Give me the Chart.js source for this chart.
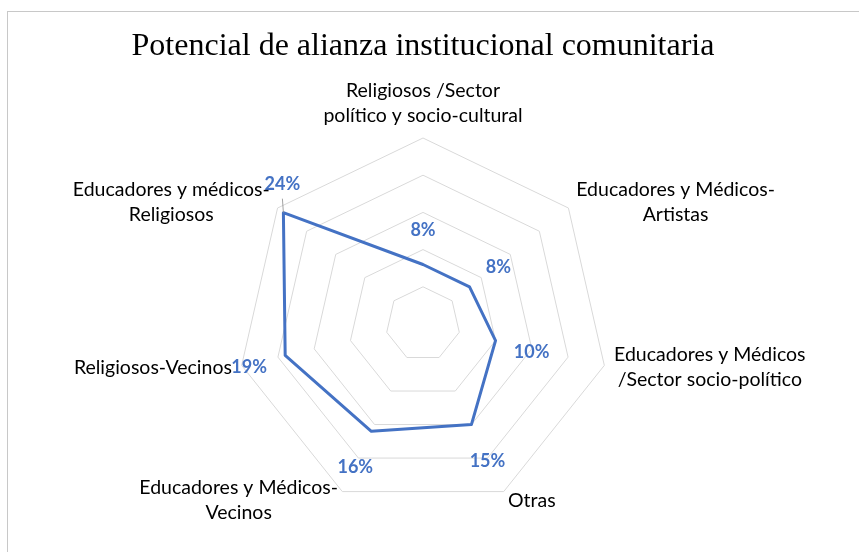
<!DOCTYPE html>
<html>
<head>
<meta charset="utf-8">
<script src="https://cdn.jsdelivr.net/npm/chart.js@4.4.1/dist/chart.umd.min.js"></script>
<style>
  html, body { margin: 0; padding: 0; background: #fff; overflow: hidden; }
  #wrap { position: relative; width: 859px; height: 552px; }
  #frame { position: absolute; left: 7px; top: 11px; width: 900px; height: 600px; border: 1px solid #c8c8c8; box-sizing: border-box; pointer-events: none; }
</style>
</head>
<body>
<div id="wrap">
  <canvas id="myChart" width="859" height="552"></canvas>
  <div id="frame"></div>
</div>
<script>
const categorias = [
    ['Religiosos /Sector', 'político y socio-cultural'],
    ['Educadores y Médicos-', 'Artistas'],
    ['Educadores y Médicos', '/Sector socio-político'],
    ['Otras'],
    ['Educadores y Médicos-', 'Vecinos'],
    ['Religiosos-Vecinos'],
    ['Educadores y médicos-', 'Religiosos']
];
const valores = [8, 8, 10, 15, 16, 19, 24];
const escalaTicks = [0, 5, 10, 15, 20, 25];

const azul = '#4472C4';

// nombres de categoria centrados linea a linea, como en Excel
const nombresCategorias = {
    id: 'nombresCategorias',
    afterDraw(chart) {
        const r = chart.scales.r;
        const ctx = chart.ctx;
        const alto = 25;
        ctx.save();
        ctx.font = '19.5px Lato';
        ctx.fillStyle = '#000';
        ctx.textBaseline = 'middle';
        ctx.textAlign = 'center';
        categorias.forEach((lineas, i) => {
            const p = r.getPointPosition(i, r.drawingArea + 10);
            const ang = r.getIndexAngle(i);
            const s = Math.sin(ang), c = Math.cos(ang);
            const ancho = Math.max(...lineas.map(t => ctx.measureText(t).width));
            const h = lineas.length * alto;
            let cx = p.x;
            if (s > 0.1) cx = p.x + ancho / 2;
            else if (s < -0.1) cx = p.x - ancho / 2;
            let cy = p.y;
            if (c > 0.95) cy = p.y - h / 2;
            else if (c < -0.95) cy = p.y + h / 2;
            lineas.forEach((t, k) => {
                ctx.fillText(t, cx, cy - h / 2 + alto * (k + 0.5));
            });
        });
        ctx.restore();
    }
};

// etiquetas de datos tipo Excel, por fuera de cada punto
const etiquetasDatos = {
    id: 'etiquetasDatos',
    afterDatasetsDraw(chart) {
        const r = chart.scales.r;
        const ctx = chart.ctx;
        const maxR = r.drawingArea + 13;
        ctx.save();
        ctx.font = 'bold 18px Lato';
        ctx.fillStyle = azul;
        ctx.textAlign = 'center';
        ctx.textBaseline = 'middle';
        valores.forEach((v, i) => {
            const p = r.getPointPositionForValue(i, v);
            const dist = r.getDistanceFromCenterForValue(v);
            const ang = r.getIndexAngle(i) - Math.PI / 2;
            let x = r.xCenter + Math.cos(ang) * (dist + 37);
            let y = r.yCenter + Math.sin(ang) * (dist + 37) + 3;
            if (dist + 37 > maxR) {
                // no cabe hacia fuera: encima del punto con linea guia
                x = p.x - 1;
                y = p.y - 28;
                ctx.strokeStyle = '#8c8c8c';
                ctx.lineWidth = 0.8;
                ctx.beginPath();
                ctx.moveTo(x, y + 14);
                ctx.lineTo(p.x, p.y);
                ctx.stroke();
            }
            ctx.fillText(v + '%', x, y);
        });
        ctx.restore();
    }
};

new Chart(document.getElementById('myChart'), {
    type: 'radar',
    data: {
        labels: categorias,
        datasets: [{
            label: 'Potencial',
            data: valores,
            borderColor: azul,
            borderWidth: 3,
            borderJoinStyle: 'round',
            backgroundColor: 'rgba(0,0,0,0)',
            fill: false,
            pointRadius: 0,
            tension: 0
        }]
    },
    options: {
        responsive: false,
        animation: false,
        layout: { padding: { top: 0, left: 100, right: 113, bottom: 42 } },
        plugins: {
            legend: { display: false },
            tooltip: { enabled: false },
            title: {
                display: true,
                text: 'Potencial de alianza institucional comunitaria',
                color: '#000',
                font: { family: 'Liberation Serif', size: 32, weight: 'normal' },
                padding: { top: 27, bottom: 72.6 }
            }
        },
        scales: {
            r: {
                min: escalaTicks[0],
                max: escalaTicks[escalaTicks.length - 1],
                ticks: { display: false, stepSize: escalaTicks[1] - escalaTicks[0] },
                grid: { color: '#d9d9d9', lineWidth: 1 },
                angleLines: { display: false },
                pointLabels: { display: false }
            }
        }
    },
    plugins: [etiquetasDatos, nombresCategorias]
});
</script>
</body>
</html>
